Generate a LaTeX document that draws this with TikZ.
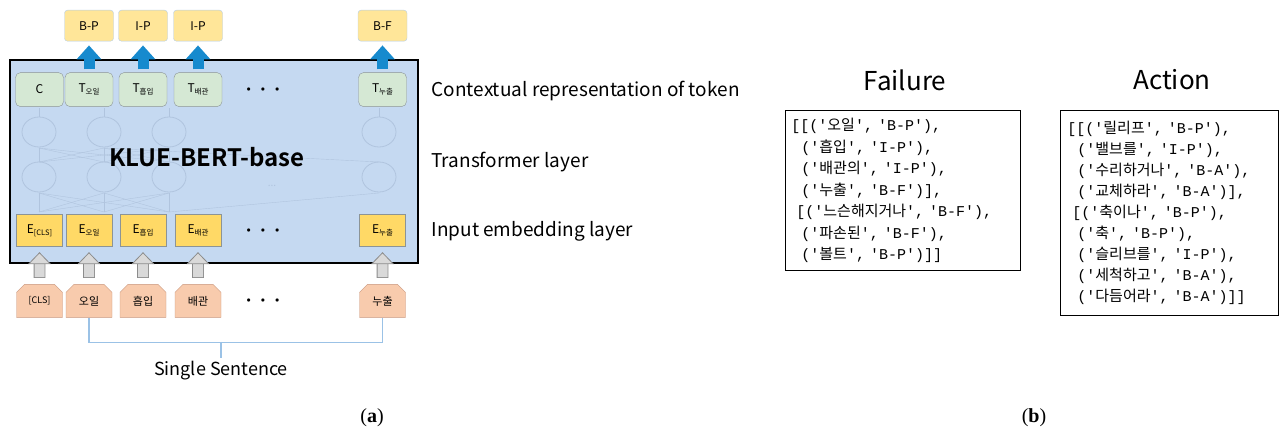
\documentclass[tikz,border=0pt]{standalone}
\usepackage{fontspec}
\setmainfont{Noto Sans CJK KR}[BoldFont={Noto Sans CJK KR Bold}]
\setmonofont{Liberation Mono}
\newfontfamily\krfont{Noto Sans CJK KR}
\newfontfamily\capfont{Liberation Serif}
\usetikzlibrary{calc,positioning,shapes.misc,arrows.meta}

\definecolor{bertblue}{RGB}{197,217,241}
\definecolor{outyellow}{RGB}{255,230,153}
\definecolor{outline}{RGB}{180,205,232}
\definecolor{tgreen}{RGB}{213,232,212}
\definecolor{eyellow}{RGB}{255,217,102}
\definecolor{boxgray}{RGB}{140,148,150}
\definecolor{tokpink}{RGB}{248,203,173}
\definecolor{tokline}{RGB}{200,150,125}
\definecolor{arrowblue}{RGB}{22,138,206}
\definecolor{graylight}{RGB}{217,217,217}
\definecolor{graydark}{RGB}{140,140,140}
\definecolor{faint}{RGB}{176,196,222}
\definecolor{brackblue}{RGB}{155,194,230}

\newcommand\sub[1]{\raisebox{-2pt}{\fontsize{7.5}{7.5}\selectfont #1}}
\newcommand\cl[3]{\texttt{#1}{\krfont #2}\texttt{#3}}
\newcommand\dotrow{$\bullet$\hspace{10pt}$\bullet$\hspace{10pt}$\bullet$}

\begin{document}
\begin{tikzpicture}[x=1pt,y=-1pt,
  outbox/.style={draw=outline, fill=outyellow, rounded corners=3pt, minimum width=49pt, minimum height=31pt, font=\fontsize{12}{12}\selectfont},
  tbox/.style={draw=boxgray, fill=tgreen, rounded corners=5pt, minimum width=48pt, minimum height=34pt, font=\fontsize{12}{12}\selectfont},
  ebox/.style={draw=boxgray, fill=eyellow, minimum width=46pt, minimum height=32pt, font=\fontsize{12}{12}\selectfont},
  tokbox/.style={chamfered rectangle, chamfered rectangle corners={north west,north east}, chamfered rectangle xsep=4pt, chamfered rectangle ysep=4pt, draw=tokline, fill=tokpink, minimum width=46pt, minimum height=33pt, inner sep=0pt, font=\fontsize{11}{11}\selectfont},
  outarrow/.style={draw=arrowblue, line width=11pt, -{Triangle[length=14pt,width=24pt]}, shorten <=3pt, shorten >=4pt},
  inarrow/.style={draw=graylight, line width=10pt, -{Triangle[length=12pt,width=23pt,color=graydark,fill=graylight,line width=0.8pt]}, shorten <=7pt, shorten >=5.5pt,
    preaction={draw=graydark, line width=11.6pt, -, shorten <=6.4pt, shorten >=17pt}},
  layer/.style={anchor=west, font=\fontsize{19}{21}\selectfont},
  codebox/.style={draw, thick, anchor=north west, align=left},
  title/.style={font=\fontsize{26}{26}\selectfont},
  bracket/.style={draw=brackblue, line width=1.2pt}]
\useasboundingbox (0,0) rectangle (1279,435);

\node [draw=black, line width=2pt, fill=bertblue, minimum width=408pt, minimum height=203pt] (bert) at (214,161.5) {};
\foreach \x in {39,104,169,379} {
  \draw [faint, thick] (\x,132) ellipse (17 and 15);
  \draw [faint, thick] (\x,177) ellipse (17 and 15);
  \draw [faint] (\x,117) -- (\x,108);
}
\foreach \a in {39,104,169} \foreach \b in {39,104,169} {
  \draw [faint] (\a,162) -- (\b,148);
  \draw [faint] (\a,212) -- (\b,193);
}
\draw [faint] (104,148) -- (379,162);
\draw [faint] (169,212) -- (379,193);
\node [text=faint, font=\fontsize{10}{10}\selectfont] (tdots2) at (272,186) {...};
\node [font=\bfseries\fontsize{24}{24}\selectfont] (klue) at (207,157) {KLUE-BERT-base};

\node [ebox] (e1) at (39.5,230.5) {E\sub{[CLS]}};
\node [ebox] (e2) at (89,230.5) {E\sub{오일}};
\node [ebox] (e3) at (143,230.5) {E\sub{흡입}};
\node [ebox] (e4) at (198,230.5) {E\sub{배관}};
\node [ebox] (e5) at (382.5,230.5) {E\sub{누출}};
\node [font=\fontsize{8.5}{8.5}\selectfont] (edots) at (263,231) {\dotrow};

\node [tbox, above=107.5pt of e1] (t1) {C};
\node [tbox, above=107.5pt of e2] (t2) {T\sub{오일}};
\node [tbox, above=107.5pt of e3] (t3) {T\sub{흡입}};
\node [tbox, above=107.5pt of e4] (t4) {T\sub{배관}};
\node [tbox, above=107.5pt of e5] (t5) {T\sub{누출}};
\node [font=\fontsize{8.5}{8.5}\selectfont] (tdots) at (263,90) {\dotrow};

\node [outbox, above=31pt of t2] (o2) {B-P};
\node [outbox, above=31pt of t3] (o3) {I-P};
\node [outbox, above=31pt of t4] (o4) {I-P};
\node [outbox, above=31pt of t5] (o5) {B-F};

\node [tokbox, below=37.5pt of e1, font=\fontsize{9}{9}\selectfont] (k1) {[CLS]};
\node [tokbox, below=37.5pt of e2] (k2) {오일};
\node [tokbox, below=37.5pt of e3] (k3) {흡입};
\node [tokbox, below=37.5pt of e4] (k4) {배관};
\node [tokbox, below=37.5pt of e5] (k5) {누출};
\node [font=\fontsize{8.5}{8.5}\selectfont] (kdots) at (263,301) {\dotrow};

\foreach \i in {2,3,4,5} \draw [outarrow] (t\i) -- (o\i);
\foreach \i in {1,2,3,4,5} \draw [inarrow] (k\i) -- (e\i);

\node [font=\fontsize{18}{20}\selectfont] (sent) at (221,371) {Single Sentence};
\coordinate (brk) at (221,342);
\draw [bracket] (k2.south) |- ($(k5.south)+(0,25)$) -- (k5.south);
\draw [bracket] (brk) -- (sent.north);

\node [layer] (lctx) at (428,91) {Contextual representation of token};
\node [layer] (ltrf) at (428,162) {Transformer layer};
\node [layer] (lemb) at (428,231) {Input embedding layer};

\node [title] (tfail) at (905,80) {Failure};
\node [title] (tact) at (1172,80) {Action};
\node [codebox, minimum height=160pt, text width=223pt, inner xsep=6pt, font=\fontsize{15}{21.5}\selectfont] (fail) at (785,110) {%
\cl{[[('}{오일}{', 'B-P'),}\\
\cl{~~('}{흡입}{', 'I-P'),}\\
\cl{~~('}{배관의}{', 'I-P'),}\\
\cl{~~('}{누출}{', 'B-F')],}\\
\cl{~[('}{느슨해지거나}{', 'B-F'),}\\
\cl{~~('}{파손된}{', 'B-F'),}\\
\cl{~~('}{볼트}{', 'B-P')]]}};
\node [codebox, minimum height=205pt, text width=204pt, inner xsep=7pt, font=\fontsize{15}{21}\selectfont] (act) at (1060,110) {%
\cl{[[('}{릴리프}{', 'B-P'),}\\
\cl{~~('}{밸브를}{', 'I-P'),}\\
\cl{~~('}{수리하거나}{', 'B-A'),}\\
\cl{~~('}{교체하라}{', 'B-A')],}\\
\cl{~[('}{축이나}{', 'B-P'),}\\
\cl{~~('}{축}{', 'B-P'),}\\
\cl{~~('}{슬리브를}{', 'I-P'),}\\
\cl{~~('}{세척하고}{', 'B-A'),}\\
\cl{~~('}{다듬어라}{', 'B-A')]]}};

\node [font=\capfont\fontsize{20}{20}\selectfont] (capa) at (372,418) {(\textbf{a})};
\node [font=\capfont\fontsize{20}{20}\selectfont] (capb) at (1034,418) {(\textbf{b})};
\end{tikzpicture}
\end{document}
